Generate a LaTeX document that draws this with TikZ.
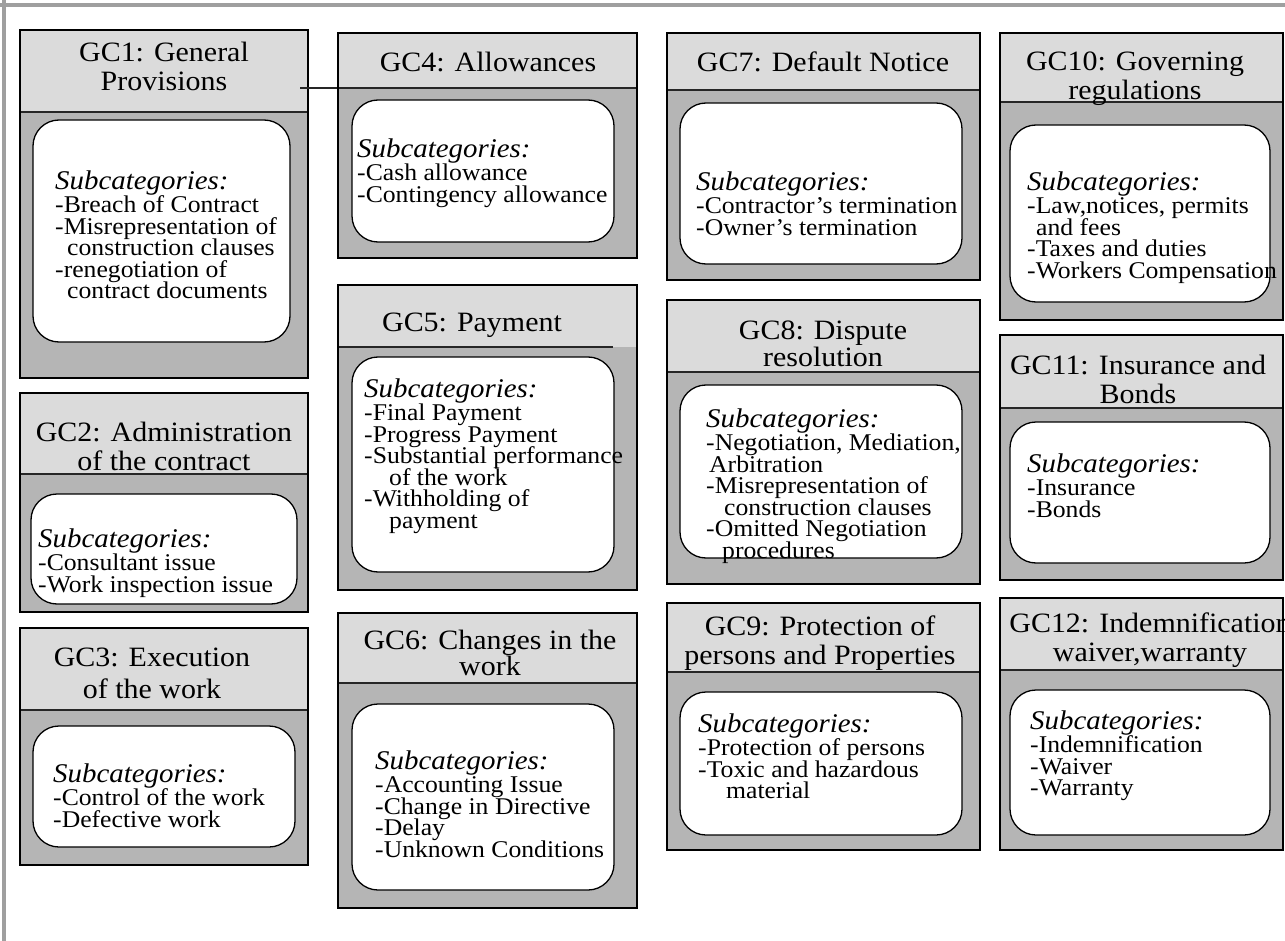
\documentclass[tikz,border=0pt]{standalone}
\usepackage{fontspec}
\setmainfont{Liberation Serif}[FakeStretch=1.07]
\newcommand{\headfontat}[1]{\fontsize{28}{#1}\selectfont\lineskiplimit=-50pt\relax}
\newcommand{\headfont}{\headfontat{29}}
\newcommand{\bodyfont}{\fontsize{24}{21.5}\selectfont\lineskiplimit=-50pt\relax}
\newcommand{\subcathead}{{\fontsize{27}{21.5}\selectfont\itshape Subcategories:}\\[1.5pt]}
\newcommand{\gcindent}[1][12pt]{\hspace*{#1}}
\begin{document}
\begin{tikzpicture}[x=1pt,y=-1pt,
    pageedge/.style={gray!75,line width=4pt},
    headpart/.style={fill=gray!28},
    bodypart/.style={fill=gray!58},
    divline/.style={black!85,line width=1.2pt},
    roundbox/.style={draw=black,fill=white,line width=1.3pt,rounded corners=26pt},
    gcframe/.style={draw=black,line width=2.8pt},
    gchead/.style={align=center,inner sep=0pt,font=\headfont},
    gcbody/.style={anchor=north west,align=left,inner sep=0pt,font=\bodyfont}]

    \useasboundingbox (0,0) rectangle (1285,941);

    % Page edges
    \draw[pageedge] (0,5) -- (1285,5);
    \draw[pageedge] (4,0) -- (4,941);

    % Category boxes: frame, divider, inner box
    \foreach \xa/\ya/\xb/\yb/\yd/\xl/\xr/\ia/\ja/\ib/\jb in {
        20/30/308/378/112/20/308/33/120/290/342,
        20/393/308/612/474/20/308/31/494/297/604,
        20/628/308/865/710/20/308/33/726/295/847,
        338/33/637/258/88/300/637/352/100/614/242,
        338/285/637/590/347/338/613/352/357/614/572,
        338/613/637/908/683/338/637/352/704/614/890,
        667/33/980/280/90/667/980/680/103/962/264,
        667/300/980/584/372/667/980/680/385/962/558,
        667/603/980/850/672/667/980/680/692/962/835,
        1000/33/1283/320/102/1000/1283/1010/125/1270/302,
        1000/335/1283/580/408/1000/1283/1010/422/1270/563,
        1000/598/1283/850/670/1000/1283/1010/690/1270/835}{
        \fill[headpart] (\xa,\ya) rectangle (\xb,\yd);
        \fill[bodypart] (\xa,\yd) rectangle (\xb,\yb);
        \draw[divline] (\xl,\yd) -- (\xr,\yd);
        \draw[roundbox] (\ia,\ja) rectangle (\ib,\jb);
        \draw[gcframe] (\xa,\ya) rectangle (\xb,\yb);
    }

    % Headings
    \node[gchead] (gc1h) at (164,66) {GC1: General\\Provisions};
    \node[gchead] (gc2h) at (164,446) {GC2: Administration\\of the contract};
    \node[gchead,font={\headfontat{32}}] (gc3h) at (152,673) {GC3: Execution\\of the work};
    \node[gchead] (gc4h) at (488,62) {GC4: Allowances};
    \node[gchead] (gc5h) at (472,325) {GC5: Payment};
    \node[gchead,font={\headfontat{26}}] (gc6h) at (490,653) {GC6: Changes in the\\work};
    \node[gchead] (gc7h) at (823,62) {GC7: Default Notice};
    \node[gchead,font={\headfontat{27}}] (gc8h) at (823,344) {GC8: Dispute\\resolution};
    \node[gchead] (gc9h) at (820,643) {GC9: Protection of\\persons and Properties};
    \node[gchead] (gc10h) at (1135,79) {GC10: Governing\\regulations};
    \node[gchead] (gc11h) at (1138,379) {GC11: Insurance and\\Bonds};
    \node[gchead] (gc12h) at (1150,640) {GC12: Indemnification\\waiver,warranty};

    % Subcategories
    \node[gcbody] (gc1b) at (55,171) {\subcathead-Breach of Contract\\-Misrepresentation of\\
        \gcindent construction clauses\\-renegotiation of\\\gcindent contract documents};
    \node[gcbody] (gc2b) at (38,529) {\subcathead-Consultant issue\\-Work inspection issue};
    \node[gcbody] (gc3b) at (53,764) {\subcathead-Control of the work\\-Defective work};
    \node[gcbody] (gc4b) at (357,139) {\subcathead-Cash allowance\\-Contingency allowance};
    \node[gcbody] (gc5b) at (364,379) {\subcathead-Final Payment\\-Progress Payment\\
        -Substantial performance\\\gcindent[25pt]of the work\\-Withholding of\\\gcindent[25pt]payment};
    \node[gcbody] (gc6b) at (375,751) {\subcathead-Accounting Issue\\-Change in Directive\\
        -Delay\\-Unknown Conditions};
    \node[gcbody] (gc7b) at (696,172) {\subcathead-Contractor’s termination\\-Owner’s termination};
    \node[gcbody] (gc8b) at (706,409) {\subcathead-Negotiation, Mediation,\\\gcindent[3pt]Arbitration\\
        -Misrepresentation of\\\gcindent[18pt]construction clauses\\-Omitted Negotiation\\
        \gcindent[16pt]procedures};
    \node[gcbody] (gc9b) at (698,714) {\subcathead-Protection of persons\\-Toxic and hazardous\\
        \gcindent[28pt]material};
    \node[gcbody] (gc10b) at (1027,172) {\subcathead-Law,notices, permits\\\gcindent[9pt]and fees\\
        -Taxes and duties\\-Workers Compensation};
    \node[gcbody] (gc11b) at (1027,454) {\subcathead-Insurance\\-Bonds};
    \node[gcbody] (gc12b) at (1030,711) {\subcathead-Indemnification\\-Waiver\\-Warranty};
\end{tikzpicture}
\end{document}
